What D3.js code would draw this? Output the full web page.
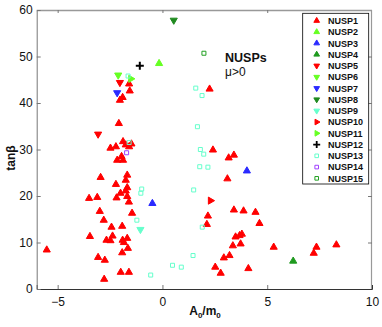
<!DOCTYPE html>
<html><head><meta charset="utf-8">
<script src="https://cdn.jsdelivr.net/npm/d3@7"></script>
<style>body{margin:0;background:#fff}svg{display:block}text{font-family:"Liberation Sans",Arial,sans-serif}</style>
</head><body><svg id="c" width="382" height="327"></svg>
<script>
const xTicks = [-5, 0, 5, 10];
const yTicks = [0, 10, 20, 30, 40, 50, 60];
const seriesNames = ["NUSP1","NUSP2","NUSP3","NUSP4","NUSP5","NUSP6","NUSP7","NUSP8","NUSP9","NUSP10","NUSP11","NUSP12","NUSP13","NUSP14","NUSP15"];
const seriesColors = ["#ff0000","#66ff22","#2a2aff","#1f9a1f","#ff0000","#66ff22","#2a2aff","#1f8a1f","#66ffcc","#ff0000","#66ff22","#000000","#66ffcc","#a040ff","#22a022"];
const seriesShapes = ["up","up","up","up","down","down","down","down","down","right","right","plus","square","square","square"];
const nusp1 = [[-1.59,44.1],[-1.56,42.6],[-1.9,41.2],[-2.03,40.6],[-2.08,35.6],[-1.88,31.7],[-2.48,30.3],[-2.22,30.6],[-1.75,31.0],[-1.48,31.2],[-1.59,30.6],[-1.95,28.5],[-2.16,27.7],[-1.88,27.7],[-2.95,24.0],[-1.68,24.5],[-1.75,23.4],[-2.22,22.5],[-1.68,21.8],[-2.0,20.6],[-1.75,21.1],[-3.5,19.5],[-3.11,19.7],[-2.19,19.6],[-1.68,19.9],[-1.6,18.7],[-2.99,16.7],[-1.45,16.3],[-2.8,14.8],[-2.43,13.3],[-1.92,13.5],[-3.46,11.3],[-2.38,11.4],[-2.67,10.5],[-2.48,10.4],[-1.9,10.5],[-1.84,10.0],[-1.68,10.9],[-1.65,8.75],[-5.52,8.4],[-1.92,7.8],[-3.07,6.8],[-2.75,6.2],[-1.99,3.6],[-1.6,3.6],[-2.78,2.1],
 [2.25,43.0],[2.41,29.9],[3.16,28.2],[3.41,28.8],[3.1,23.7],[3.41,17.0],[3.87,16.8],[4.44,16.5],[2.17,15.7],[4.63,14.1],[2.12,13.9],[3.79,11.8],[3.68,11.5],[3.49,11.2],[3.73,9.7],[3.36,9.3],[5.31,9.0],[3.2,7.2],[2.93,6.7],[2.52,4.7],[4.1,4.4],[2.78,3.4],[7.35,9.0],[7.22,7.7],[8.3,9.5]];
const nusp2 = [[-0.16,48.5]];
const nusp3 = [[-0.48,18.4],[4.03,25.4]];
const nusp4 = [[6.24,6.0]];
const nusp5 = [[-2.03,44.4],[-3.07,33.3]];
const nusp6 = [[-2.11,46.0]];
const nusp7 = [[-2.16,42.2]];
const nusp8 = [[0.54,57.8]];
const nusp9 = [[-1.05,12.8]];
const nusp10 = [[2.29,19.0]];
const nusp11 = [[-1.51,45.2]];
const nusp12 = [[-1.08,48.0]];
const nusp13 = [[-1.64,45.8],[-1.59,31.5],[-0.99,21.5],[-1.03,20.6],[-1.22,14.8],[-0.56,3.0],[1.59,43.2],[1.89,41.6],[1.67,34.9],[1.81,30.0],[1.97,29.0],[1.78,26.3],[2.17,26.2],[1.49,21.3],[1.9,13.3],[1.46,7.2],[0.48,5.1],[0.9,4.7]];
const nusp14 = [[-1.71,29.3]];
const nusp15 = [[1.98,50.7]];
const seriesData = [nusp1,nusp2,nusp3,nusp4,nusp5,nusp6,nusp7,nusp8,nusp9,nusp10,nusp11,nusp12,nusp13,nusp14,nusp15];

const svg = d3.select("#c");
const L = 36.7, R = 372, T = 10, B = 289;
const x = d3.scaleLinear().domain([-6, 10]).range([L, R]);
const y = d3.scaleLinear().domain([0, 60]).range([B, T]);

// frame
svg.append("line").attr("x1",L).attr("x2",R).attr("y1",T+0.5).attr("y2",T+0.5).attr("stroke","#999").attr("stroke-width",1.5);
svg.append("line").attr("x1",R-0.5).attr("x2",R-0.5).attr("y1",T).attr("y2",B).attr("stroke","#999").attr("stroke-width",1.2);

const fmt = d => d < 0 ? "\u2212" + Math.abs(d) : String(d);
const xAxis = svg.append("g").attr("transform",`translate(0,${B})`)
  .call(d3.axisBottom(x).tickValues(xTicks).tickSize(-4).tickPadding(8).tickFormat(fmt));
const yAxis = svg.append("g").attr("transform",`translate(${L},0)`)
  .call(d3.axisLeft(y).tickValues(yTicks).tickSize(-4).tickPadding(4).tickFormat(fmt));
xAxis.select(".domain").attr("stroke","#333");
yAxis.select(".domain").attr("stroke","#777");
[xAxis,yAxis].forEach(g=>{
  g.selectAll(".tick line").attr("stroke","#777");
  g.selectAll(".tick text").attr("font-size",12).attr("fill","#111").attr("font-family","Liberation Sans, Arial, sans-serif");
});
xAxis.selectAll(".tick").filter(d=>d===10).select("line").remove();
yAxis.selectAll(".tick").filter(d=>d===0||d===60).select("line").remove();
// mirrored ticks
svg.append("g").attr("transform",`translate(0,${T})`).call(d3.axisTop(x).tickValues([-5,0,5]).tickSize(-3).tickFormat(""))
  .call(g=>{g.select(".domain").remove();g.selectAll(".tick line").attr("stroke","#777");});
svg.append("g").attr("transform",`translate(${R},0)`).call(d3.axisRight(y).tickValues([10,20,30,40,50]).tickSize(-4).tickFormat(""))
  .call(g=>{g.select(".domain").remove();g.selectAll(".tick line").attr("stroke","#777");});

function markerPath(shape){
  if (shape==="plus") return "M-4,0H4M0,-4V4";
  if (shape==="square") return "M-2,-2H2V2H-2Z";
  return d3.symbol().type(d3.symbolTriangle).size(22)();
}
function rot(shape){ return shape==="down"?180:shape==="right"?90:0; }

seriesData.forEach((pts,i)=>{
  const shape = seriesShapes[i], col = seriesColors[i];
  svg.append("g").selectAll("path").data(pts).join("path")
    .attr("d", markerPath(shape))
    .attr("transform", d=>`translate(${x(d[0])},${y(d[1])}) rotate(${rot(shape)})`)
    .attr("fill", (shape==="plus"||shape==="square") ? "none" : col)
    .attr("stroke", col)
    .attr("stroke-width", shape==="plus"?2:1);
});

// legend
const lg = svg.append("g");
lg.append("rect").attr("x",302.7).attr("y",13.3).attr("width",66).attr("height",170.7).attr("fill","#fff").attr("stroke","#000").attr("stroke-width",0.8);
seriesNames.forEach((n,i)=>{
  const cy = 20.7 + i*11.26, shape = seriesShapes[i], col = seriesColors[i];
  lg.append("path").attr("d", shape==="plus"?"M-3.5,0H3.5M0,-3.5V3.5":shape==="square"?"M-1.8,-1.8H1.8V1.8H-1.8Z":d3.symbol().type(d3.symbolTriangle).size(14)())
    .attr("transform",`translate(316.7,${cy}) rotate(${rot(shape)})`)
    .attr("fill",(shape==="plus"||shape==="square")?"none":col).attr("stroke",col).attr("stroke-width",shape==="plus"?1.8:1);
  lg.append("text").attr("x",328).attr("y",cy+3.3).attr("font-size",9).attr("font-weight","bold").attr("fill","#111").text(n);
});

// annotations
svg.append("text").attr("x",225).attr("y",62).attr("font-size",12.5).attr("font-weight","bold").attr("fill","#111").text("NUSPs");
svg.append("text").attr("x",225).attr("y",76).attr("font-size",12).attr("fill","#111").text("\u03bc>0");

// axis labels
svg.append("text").attr("transform","translate(15,158) rotate(-90)").attr("text-anchor","middle")
  .attr("font-size",12).attr("font-weight","bold").attr("fill","#111").text("tan\u03b2");
const xl = svg.append("text").attr("x",205).attr("y",315).attr("text-anchor","middle").attr("font-size",12).attr("font-weight","bold").attr("fill","#111");
xl.append("tspan").text("A");
xl.append("tspan").attr("font-size",8).attr("dy",3).text("0");
xl.append("tspan").attr("dy",-3).text("/m");
xl.append("tspan").attr("font-size",8).attr("dy",3).text("0");
</script></body></html>
